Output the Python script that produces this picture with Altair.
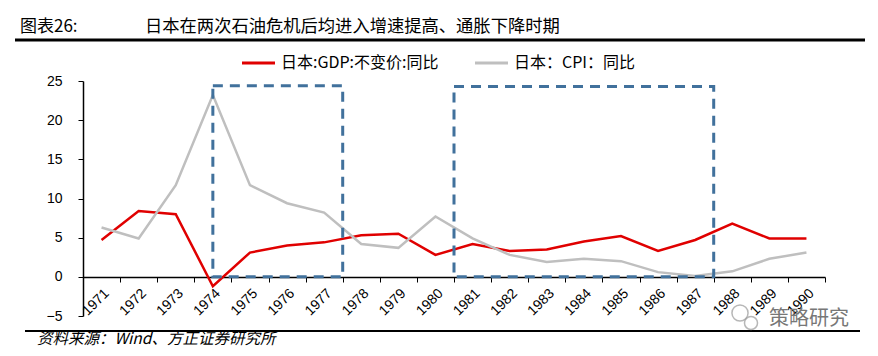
import altair as alt
import pandas as pd

years = [str(y) for y in range(1971, 1991)]
gdp = [4.7, 8.4, 8.0, -1.2, 3.1, 4.0, 4.4, 5.3, 5.5, 2.8, 4.2, 3.3, 3.5, 4.5, 5.2, 3.3, 4.7, 6.8, 4.9, 4.9]
cpi = [6.3, 4.9, 11.7, 23.2, 11.7, 9.4, 8.2, 4.2, 3.7, 7.7, 4.9, 2.8, 1.9, 2.3, 2.0, 0.6, 0.1, 0.7, 2.3, 3.1]
series_names = ["日本:GDP:不变价:同比", "日本：CPI：同比"]
series_colors = ["#E00000", "#BFBFBF"]
box_start = [3.5, 10.0]   # position in category units
box_end = [7.0, 17.0]
box_top = [24.4, 24.3]
y_ticks = [-5, 0, 5, 10, 15, 20, 25]
title_label = "图表26:"
title_text = "日本在两次石油危机后均进入增速提高、通胀下降时期"
source_text = "资料来源：Wind、方正证券研究所"
watermark = "策略研究"

FONT = "Liberation Sans"
CJK = "Noto Sans CJK SC"

rows = []
for i, y in enumerate(years):
    rows.append({"year": y, "series": series_names[0], "value": gdp[i]})
    rows.append({"year": y, "series": series_names[1], "value": cpi[i]})
df = pd.DataFrame(rows)

W, H = 742, 235

yscale = alt.Scale(domain=[-5, 25], nice=False, zero=False)
y_axis = alt.Axis(title=None, values=y_ticks, grid=False, domainColor="black",
                  tickColor="black", tickSize=5, labelFont=FONT, labelFontSize=14,
                  labelOverlap=False, labelColor="black", labelPadding=16,
                  domainWidth=1.5)

lines = alt.Chart(df).mark_line(strokeWidth=2.5).encode(
    x=alt.X("year:N", sort=years, bandPosition=0.5,
            scale=alt.Scale(type="band", domain=years, paddingInner=0, paddingOuter=0),
            axis=alt.Axis(title=None, tickBand="extent", labelAngle=-45, offset=-39,
                          domainColor="black", tickColor="black", tickSize=5,
                          labelFont=FONT, labelFontSize=14, labelColor="black",
                          labelOverlap=False, grid=False, labelPadding=4, domainWidth=1.5)),
    y=alt.Y("value:Q", scale=yscale, axis=y_axis),
    color=alt.Color("series:N", scale=alt.Scale(domain=series_names, range=series_colors), legend=None),
    detail="series:N",
)

boxdf = pd.DataFrame({"x1": box_start, "x2": box_end, "top": box_top, "bottom": [0, 0]})
boxes = alt.Chart(boxdf).mark_rect(fillOpacity=0, stroke="#41719C", strokeWidth=3, strokeDash=[10, 7]).encode(
    x=alt.X("x1:Q", scale=alt.Scale(domain=[0, 20], nice=False, zero=False), axis=None),
    x2="x2:Q",
    y=alt.Y("top:Q", scale=yscale, axis=y_axis),
    y2="bottom:Q",
)

one = pd.DataFrame({"a": [0]})

def txt(text, x, y, size, font=CJK, color="black", style="normal", align="left", weight="normal"):
    return alt.Chart(one).mark_text(text=text, align=align, baseline="middle", fontSize=size,
                                    font=font, color=color, fontStyle=style, fontWeight=weight).encode(
        x=alt.value(x), y=alt.value(y))

def rule(x1, x2, y, color, width):
    return alt.Chart(one).mark_rule(color=color, strokeWidth=width).encode(
        x=alt.value(x1), x2=alt.value(x2), y=alt.value(y))

def ring(x, y, size, color="#9a9a9a"):
    return alt.Chart(one).mark_point(shape="circle", filled=False, size=size, color=color,
                                     strokeWidth=1.5).encode(x=alt.value(x), y=alt.value(y))

layers = [
    lines,
    boxes,
    txt(title_label, -63, -54, 17),
    txt(title_text, 62, -54, 17.3),
    rule(-68, 782, -41, "black", 3),
    rule(159, 192, -18, series_colors[0], 3),
    txt(series_names[0], 198, -18, 16),
    rule(392, 425, -18, series_colors[1], 3),
    txt(series_names[1], 431, -18, 16),
    rule(-58, 777, 250, "black", 2),
    txt(source_text, -46, 258, 15.5, style="italic"),
    ring(657, 232, 260),
    ring(668, 242, 170),
    txt(watermark, 686, 238, 20, color="#777777"),
]

chart = alt.layer(*layers).resolve_scale(x="independent").properties(
    width=W, height=H,
    padding={"left": 75, "top": 73, "right": 45, "bottom": 32},
    autosize=alt.AutoSizeParams(type="none"),
).configure_view(stroke=None)

chart.save("out.html", embed_options={"renderer": "svg", "actions": False})
